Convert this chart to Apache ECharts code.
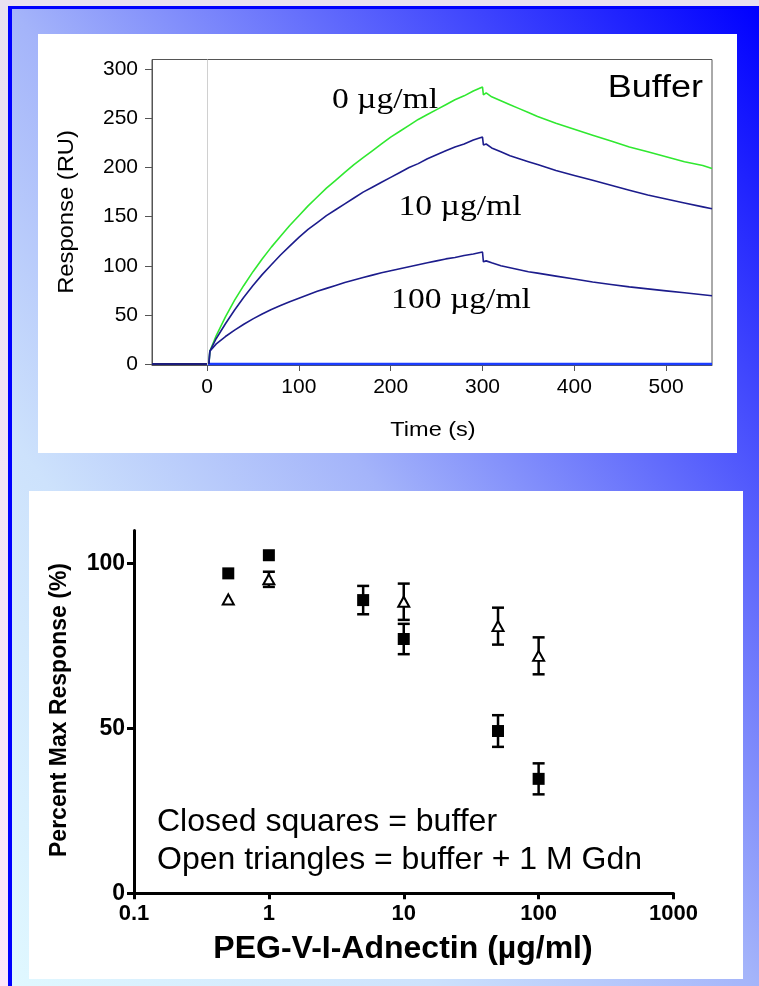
<!DOCTYPE html>
<html>
<head>
<meta charset="utf-8">
<script src="https://cdn.jsdelivr.net/npm/echarts@6/dist/echarts.min.js"></script>
<style>
  html, body { margin: 0; padding: 0; }
  body { width: 759px; height: 986px; position: relative; overflow: hidden; }
  .lay { position: absolute; }
  #bg { left: 0; top: 0; width: 759px; height: 986px; background: linear-gradient(to bottom, #e8e0f0, #fde8fa); }
  #frame { left: 8px; top: 6px; right: 0; bottom: 0; background: #0000ff; }
  #grad { left: 12px; top: 9px; right: 0; bottom: 0;
    background: linear-gradient(to top right, #e0f8ff 0%, #cde2fc 28%, #a4b4fa 50%, #0000ff 100%); }
  #panelTop { left: 38px; top: 34px; width: 699px; height: 419px; background: #fff; }
  #panelBot { left: 29px; top: 491px; width: 714px; height: 488px; background: #fff; }
  #chart { left: 0; top: 0; width: 759px; height: 986px; }
</style>
</head>
<body>
<div class="lay" id="bg"></div>
<div class="lay" id="frame"></div>
<div class="lay" id="grad"></div>
<div class="lay" id="panelTop"></div>
<div class="lay" id="panelBot"></div>
<div class="lay" id="chart"></div>
<script>
// ---- Top chart: sensorgram data (time in s, response in RU) ----
const assocTime = [2,3,10,20,30,40,50,60,70,80,90,100,110,120,130,140,150,160,170,180,190,200,210,220,230,240,250,260,270,280,290,300];
const resp0Assoc = [0,13,29,48,65,80,94,107,119,130,141,151,161,170,179,187,195,203,210,217,224,231,237,243,249,254,259,264,269,273,278,282];
const resp10Assoc = [0,13,26,41,55,68,80,91,101,111,120,129,137,144,151,157,163,169,175,180,185,190,195,200,204,209,213,217,221,224,228,231];
const resp100Assoc = [0,13,20.5,28,34.5,40.5,46,51,55.5,59.5,63.5,67,70.5,74,77,80,83,85.5,88,90.5,93,95,97,99,101,103,105,107,108.5,110.5,112,114];
const dissTime = [301,304,310,320,330,340,350,360,380,400,420,440,460,480,500,520,540,550];
const resp0Diss = [274,276,272,268,264,260,256,252,245,239,233,227,221,216,211,206,202,199];
const resp10Diss = [223,224,220,216,212,209,206,203,197,192,187,182,177,172,168,164,160,158];
const resp100Diss = [104,105,103,100,98,96,94,92.5,89.5,86.5,83.5,81,78.5,76.5,74.5,72.5,70.5,69.5];
const preTime = [-60, 0, 2];
const preResp = [0, 0, 0];
const blankTime = [0, 550];
const blankResp = [0, 0];
const topXTicks = [0, 100, 200, 300, 400, 500];
const topYTicks = [0, 50, 100, 150, 200, 250, 300];

// ---- Bottom chart: percent max response vs concentration ----
const concBuffer = [0.5, 1, 5, 10, 50, 100];
const pctBuffer = [97.0, 102.5, 88.9, 77.1, 49.2, 34.7];
const errBuffer = [0, 0, 4.3, 4.6, 4.8, 4.7];
const concGdn = [0.5, 1, 10, 50, 100];
const pctGdn = [89.1, 95.2, 88.4, 81.0, 72.0];
const errGdn = [0, 2.3, 5.5, 5.6, 5.6];
const botYTicks = [0, 50, 100];

const zip = (xs, ys) => xs.map((x, i) => [x, ys[i]]);
const curve = (ta, ya, td, yd) => zip(ta, ya).concat(zip(td, yd));
const errData = (xs, ys, es) => xs.map((x, i) => [x, ys[i] - es[i], ys[i] + es[i], es[i]]).filter(d => d[3] > 0);

const SANS = "'Liberation Sans', Arial, Helvetica, sans-serif";
const SERIF = "'Liberation Serif', 'Times New Roman', serif";

const chart = echarts.init(document.getElementById('chart'), null, { renderer: 'canvas' });

const errRender = (params, api) => {
  const x = api.value(0), lo = api.value(1), hi = api.value(2);
  const a = api.coord([x, lo]);
  const b = api.coord([x, hi]);
  const hw = 6;
  const st = { stroke: '#000', lineWidth: 2.5 };
  return {
    type: 'group',
    children: [
      { type: 'line', shape: { x1: a[0], y1: a[1], x2: b[0], y2: b[1] }, style: st },
      { type: 'line', shape: { x1: a[0] - hw, y1: a[1], x2: a[0] + hw, y2: a[1] }, style: st },
      { type: 'line', shape: { x1: b[0] - hw, y1: b[1], x2: b[0] + hw, y2: b[1] }, style: st }
    ]
  };
};

const option = {
  animation: false,
  grid: [
    { left: 152, top: 59.5, width: 560, height: 305.5, show: true, borderColor: '#555', borderWidth: 1, backgroundColor: 'transparent' },
    { left: 134, top: 530.5, width: 539.5, height: 362.8 }
  ],
  xAxis: [
    {
      gridIndex: 0, type: 'value', min: -60, max: 550,
      axisLine: { show: true, onZero: false, lineStyle: { color: '#555', width: 1 } },
      axisTick: { show: true, customValues: topXTicks, length: 6, lineStyle: { color: '#555', width: 1 } },
      axisLabel: { customValues: topXTicks, fontFamily: SANS, fontSize: 21, color: '#000', margin: 12 },
      splitLine: { show: false }
    },
    {
      gridIndex: 1, type: 'log', logBase: 10, min: 0.1, max: 1000,
      axisLine: { show: true, onZero: false, lineStyle: { color: '#000', width: 3 } },
      axisTick: { show: true, length: 6, lineStyle: { color: '#000', width: 3 } },
      minorTick: { show: false },
      axisLabel: { fontFamily: SANS, fontSize: 22, fontWeight: 'bold', color: '#000', margin: 10,
        formatter: v => String(+(+v).toPrecision(6)) },
      splitLine: { show: false }
    }
  ],
  yAxis: [
    {
      gridIndex: 0, type: 'value', min: -1, max: 310,
      axisLine: { show: true, onZero: false, lineStyle: { color: '#555', width: 1 } },
      axisTick: { show: true, customValues: topYTicks, length: 7, lineStyle: { color: '#555', width: 1 } },
      axisLabel: { customValues: topYTicks, fontFamily: SANS, fontSize: 21, color: '#000', margin: 14 },
      splitLine: { show: false }
    },
    {
      gridIndex: 1, type: 'value', min: 0, max: 110,
      axisLine: { show: true, onZero: false, lineStyle: { color: '#000', width: 3 } },
      axisTick: { show: true, customValues: botYTicks, length: 7, lineStyle: { color: '#000', width: 3 } },
      axisLabel: { customValues: botYTicks, fontFamily: SANS, fontSize: 23, fontWeight: 'bold', color: '#000', margin: 9 },
      splitLine: { show: false }
    }
  ],
  series: [
    {
      name: 'pre', type: 'line', xAxisIndex: 0, yAxisIndex: 0, data: zip(preTime, preResp),
      showSymbol: false, lineStyle: { color: '#1c1c7a', width: 2 },
      markLine: { silent: true, symbol: 'none', label: { show: false },
        lineStyle: { color: '#d0d0d0', width: 1, type: 'solid' }, data: [{ xAxis: 0 }] }
    },
    {
      name: 'blank', type: 'line', xAxisIndex: 0, yAxisIndex: 0, data: zip(blankTime, blankResp),
      showSymbol: false, lineStyle: { color: '#1a3cff', width: 2.5 }
    },
    {
      name: '0 µg/ml', type: 'line', xAxisIndex: 0, yAxisIndex: 0,
      data: curve(assocTime, resp0Assoc, dissTime, resp0Diss),
      showSymbol: false, lineStyle: { color: '#30e830', width: 1.6 }
    },
    {
      name: '10 µg/ml', type: 'line', xAxisIndex: 0, yAxisIndex: 0,
      data: curve(assocTime, resp10Assoc, dissTime, resp10Diss),
      showSymbol: false, lineStyle: { color: '#1c1c8c', width: 1.6 }
    },
    {
      name: '100 µg/ml', type: 'line', xAxisIndex: 0, yAxisIndex: 0,
      data: curve(assocTime, resp100Assoc, dissTime, resp100Diss),
      showSymbol: false, lineStyle: { color: '#1c1c8c', width: 1.6 }
    },
    {
      name: 'errBuffer', type: 'custom', xAxisIndex: 1, yAxisIndex: 1,
      data: errData(concBuffer, pctBuffer, errBuffer), encode: { x: 0, y: [1, 2] },
      renderItem: errRender, z: 3, clip: false
    },
    {
      name: 'errGdn', type: 'custom', xAxisIndex: 1, yAxisIndex: 1,
      data: errData(concGdn, pctGdn, errGdn), encode: { x: 0, y: [1, 2] },
      renderItem: errRender, z: 3, clip: false
    },
    {
      name: 'buffer', type: 'scatter', xAxisIndex: 1, yAxisIndex: 1,
      data: zip(concBuffer, pctBuffer), symbol: 'rect', symbolSize: [12, 12],
      itemStyle: { color: '#000', opacity: 1 }, z: 5
    },
    {
      name: 'buffer + 1 M Gdn', type: 'scatter', xAxisIndex: 1, yAxisIndex: 1,
      data: zip(concGdn, pctGdn), symbol: 'triangle', symbolSize: [11, 10],
      itemStyle: { color: '#fff', borderColor: '#000', borderWidth: 2, opacity: 1 }, z: 6
    }
  ],
  graphic: [
    { type: 'text', x: 67, y: 212, rotation: Math.PI / 2, scaleX: 1.08,
      style: { text: 'Response (RU)', font: `22px ${SANS}`, fill: '#000', align: 'center', verticalAlign: 'middle' } },
    { type: 'text', x: 433, y: 430, scaleX: 1.12,
      style: { text: 'Time (s)', font: `21px ${SANS}`, fill: '#000', align: 'center', verticalAlign: 'middle' } },
    { type: 'text', x: 703, y: 88, scaleX: 1.16,
      style: { text: 'Buffer', font: `31px ${SANS}`, fill: '#000', align: 'right', verticalAlign: 'middle' } },
    { type: 'text', x: 385, y: 100, scaleX: 1.12,
      style: { text: '0 µg/ml', font: `30px ${SERIF}`, fill: '#000', align: 'center', verticalAlign: 'middle' } },
    { type: 'text', x: 460, y: 207, scaleX: 1.12,
      style: { text: '10 µg/ml', font: `30px ${SERIF}`, fill: '#000', align: 'center', verticalAlign: 'middle' } },
    { type: 'text', x: 461, y: 300, scaleX: 1.12,
      style: { text: '100 µg/ml', font: `30px ${SERIF}`, fill: '#000', align: 'center', verticalAlign: 'middle' } },
    { type: 'text', x: 60, y: 710, rotation: Math.PI / 2,
      style: { text: 'Percent Max Response (%)', font: `bold 23px ${SANS}`, fill: '#000', align: 'center', verticalAlign: 'middle' } },
    { type: 'text', x: 403, y: 949,
      style: { text: 'PEG-V-I-Adnectin (µg/ml)', font: `bold 32px ${SANS}`, fill: '#000', align: 'center', verticalAlign: 'middle' } },
    { type: 'text', x: 157, y: 822,
      style: { text: 'Closed squares = buffer', font: `32px ${SANS}`, fill: '#000', align: 'left', verticalAlign: 'middle' } },
    { type: 'text', x: 157, y: 860,
      style: { text: 'Open triangles = buffer + 1 M Gdn', font: `32px ${SANS}`, fill: '#000', align: 'left', verticalAlign: 'middle' } }
  ]
};
chart.setOption(option);
</script>
</body>
</html>
